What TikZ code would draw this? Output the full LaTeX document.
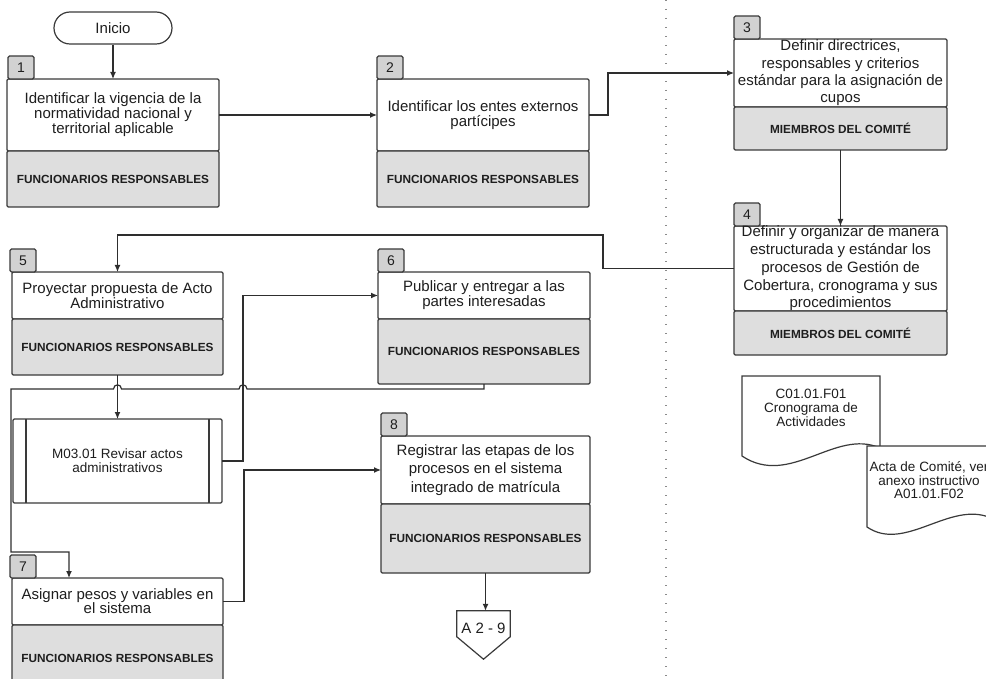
\documentclass[tikz,border=0pt]{standalone}
\usepackage{fontspec}
\setmainfont{Liberation Sans}
\usetikzlibrary{arrows.meta,calc}
\definecolor{edge}{HTML}{3A3A3A}
\definecolor{wire}{HTML}{2E2E2E}
\definecolor{roleband}{HTML}{DEDEDE}
\definecolor{tabfill}{HTML}{D2D2D2}
\definecolor{ink}{HTML}{1E1E1E}
\definecolor{laneline}{HTML}{8A8A8A}

\begin{document}
\begin{tikzpicture}[x=1pt,y=-1pt,
  actbox/.style={draw=edge, line width=1.3pt, fill=white, inner sep=0pt, outer sep=0pt, rounded corners=1.2pt},
  rolebox/.style={actbox, fill=roleband},
  tabbox/.style={draw=edge, line width=1.2pt, fill=tabfill, inner sep=0pt, outer sep=0pt,
    rounded corners=1.5pt, minimum width=26pt, minimum height=23pt,
    font=\fontsize{14}{14}\selectfont, text=ink},
  acttext/.style={align=center, inner sep=0pt, text=ink},
  roletext/.style={inner sep=0pt, text=ink, font=\bfseries\fontsize{11.8}{12}\selectfont},
  docshape/.style={draw=edge, line width=1.2pt, fill=white},
  wireline/.style={draw=wire, line width=1.2pt},
  flow/.style={wireline, -{Latex[length=7pt,width=6pt]}},
  sepline/.style={draw=laneline, line width=1.3pt, dash pattern=on 1.3pt off 7.7pt},
]
\useasboundingbox (0,0) rectangle (986,679);
\clip (0,0) rectangle (986,679);

% lane separator
\draw[sepline] (666,0) -- (666,679);

% start terminator
\node[draw=edge, line width=1.2pt, rounded corners=16pt, minimum width=118pt, minimum height=32pt,
  inner sep=0pt, text=ink, font=\fontsize{15}{15}\selectfont] (start) at (113,28) {Inicio};

% activity 1
\node[actbox, minimum width=212pt, minimum height=72pt] (b1) at (113,115) {};
\node[rolebox, minimum width=212pt, minimum height=56pt] (b1r) at (113,179) {};
\node[tabbox] (t1) at (21,67.5) {1};
\node[acttext, font=\fontsize{15}{15}\selectfont] (b1t) at (b1.center)
  {Identificar la vigencia de la\\normatividad nacional y\\territorial aplicable};
\node[roletext] (b1rt) at (b1r.center) {FUNCIONARIOS RESPONSABLES};

% activity 2
\node[actbox, minimum width=212pt, minimum height=72pt] (b2) at (483,115) {};
\node[rolebox, minimum width=212pt, minimum height=56pt] (b2r) at (483,179) {};
\node[tabbox] (t2) at (390,67.5) {2};
\node[acttext, font=\fontsize{15}{15}\selectfont] (b2t) at (b2.center)
  {Identificar los entes externos\\partícipes};
\node[roletext] (b2rt) at (b2r.center) {FUNCIONARIOS RESPONSABLES};

% activity 3
\node[actbox, minimum width=213pt, minimum height=68pt] (b3) at (840.5,73) {};
\node[rolebox, minimum width=213pt, minimum height=43pt] (b3r) at (840.5,128.5) {};
\node[tabbox] (t3) at (747,27.5) {3};
\node[acttext, font=\fontsize{15}{17.3}\selectfont] (b3t) at (b3.center)
  {Definir directrices,\\responsables y criterios\\estándar para la asignación de\\cupos};
\node[roletext] (b3rt) at (b3r.center) {MIEMBROS DEL COMITÉ};

% activity 4
\node[actbox, minimum width=213pt, minimum height=85pt] (b4) at (840.5,268.5) {};
\node[rolebox, minimum width=213pt, minimum height=44pt] (b4r) at (840.5,333) {};
\node[tabbox] (t4) at (747,214.5) {4};
\node[acttext, font=\fontsize{15}{17.7}\selectfont] (b4t) at (b4.center)
  {Definir y organizar de manera\\estructurada y estándar los\\procesos de Gestión de\\Cobertura, cronograma y sus\\procedimientos};
\node[roletext] (b4rt) at (b4r.center) {MIEMBROS DEL COMITÉ};

% activity 5
\node[actbox, minimum width=211pt, minimum height=47pt] (b5) at (117.5,295.5) {};
\node[rolebox, minimum width=211pt, minimum height=56pt] (b5r) at (117.5,347) {};
\node[tabbox] (t5) at (23,260.5) {5};
\node[acttext, font=\fontsize{15}{15}\selectfont] (b5t) at (b5.center)
  {Proyectar propuesta de Acto\\Administrativo};
\node[roletext] (b5rt) at (b5r.center) {FUNCIONARIOS RESPONSABLES};

% activity 6
\node[actbox, minimum width=212pt, minimum height=47pt] (b6) at (484,295.5) {};
\node[rolebox, minimum width=212pt, minimum height=65pt] (b6r) at (484,351.5) {};
\node[tabbox] (t6) at (391,260.5) {6};
\node[acttext, font=\fontsize{15}{15}\selectfont] (b6t) at (b6.center)
  {Publicar y entregar a las\\partes interesadas};
\node[roletext] (b6rt) at (b6r.center) {FUNCIONARIOS RESPONSABLES};

% predefined process M03.01
\node[actbox, minimum width=209pt, minimum height=84pt] (m3) at (117.5,461) {};
\draw[draw=edge, line width=1.3pt] ([xshift=13pt]m3.north west) -- ([xshift=13pt]m3.south west);
\draw[draw=edge, line width=1.3pt] ([xshift=-13pt]m3.north east) -- ([xshift=-13pt]m3.south east);
\node[acttext, font=\fontsize{13.5}{14.3}\selectfont] (m3t) at (m3.center)
  {M03.01 Revisar actos\\administrativos};

% activity 7
\node[actbox, minimum width=211pt, minimum height=47pt] (b7) at (117.5,601.5) {};
\node[rolebox, minimum width=211pt, minimum height=65pt] (b7r) at (117.5,657.5) {};
\node[tabbox] (t7) at (23,566.5) {7};
\node[acttext, font=\fontsize{15}{14}\selectfont] (b7t) at (b7.center)
  {Asignar pesos y variables en\\el sistema};
\node[roletext] (b7rt) at ([yshift=-1pt]b7r.center) {FUNCIONARIOS RESPONSABLES};

% activity 8
\node[actbox, minimum width=209pt, minimum height=68pt] (b8) at (485.5,470) {};
\node[rolebox, minimum width=209pt, minimum height=69pt] (b8r) at (485.5,538.5) {};
\node[tabbox] (t8) at (394,424.5) {8};
\node[acttext, font=\fontsize{15}{18.3}\selectfont] (b8t) at (b8.center)
  {Registrar las etapas de los\\procesos en el sistema\\integrado de matrícula};
\node[roletext] (b8rt) at (b8r.center) {FUNCIONARIOS RESPONSABLES};

% off-page connector
\node[inner sep=0pt, minimum width=53pt, minimum height=48pt] (a29) at (483.5,635) {};
\path[docshape] (a29.north west) -- (a29.north east) -- ++(0,26) -- (a29.south)
  -- ($(a29.north west)+(0,26)$) -- cycle;
\node[acttext, font=\fontsize{15}{15}\selectfont] (a29t) at (483.5,628) {A 2 - 9};

% documents
\path[docshape] (742,376) -- (880,376) -- (880,448)
  .. controls (835,428) and (790,488) .. (742,456) -- cycle;
\node[acttext, font=\fontsize{13.5}{14}\selectfont] (d1) at (811,408)
  {C01.01.F01\\Cronograma de\\Actividades};
\path[docshape] (867,446) -- (991,446) -- (991,518)
  .. controls (950,500) and (905,553) .. (867,527) -- cycle;
\node[acttext, font=\fontsize{13.5}{13.5}\selectfont] (d2) at (929,480.5)
  {Acta de Comité, ver\\anexo instructivo\\A01.01.F02};

% connectors
\coordinate (k5) at (117.5,235);
\coordinate (k7) at (69,552);
\draw[flow] (start.south) -- (b1.north);
\draw[flow] (b1.east) -- (b2.west);
\draw[flow] (b2.east) -- ++(19,0) |- (b3.west);
\draw[flow] (b3r.south) -- (b4.north);
\draw[flow] (b4.west) -- ++(-131,0) |- (k5) -- (b5.north);
\draw[flow] (b5r.south) -- (m3.north);
\draw[flow] (m3.east) -- ++(21,0) |- (b6.west);
\draw[flow] (b6r.south) -- ++(0,5) -- (247,389)
  .. controls (247,383.5) and (239,383.5) .. (239,389) -- (121.5,389)
  .. controls (121.5,383.5) and (113.5,383.5) .. (113.5,389) -- (11,389)
  |- (k7) -- (k7 |- b7.north);
\draw[flow] (b7.east) -- ++(21,0) |- (b8.west);
\draw[flow] (b8r.south) -- (b8r.south |- a29.north);

\end{tikzpicture}
\end{document}
